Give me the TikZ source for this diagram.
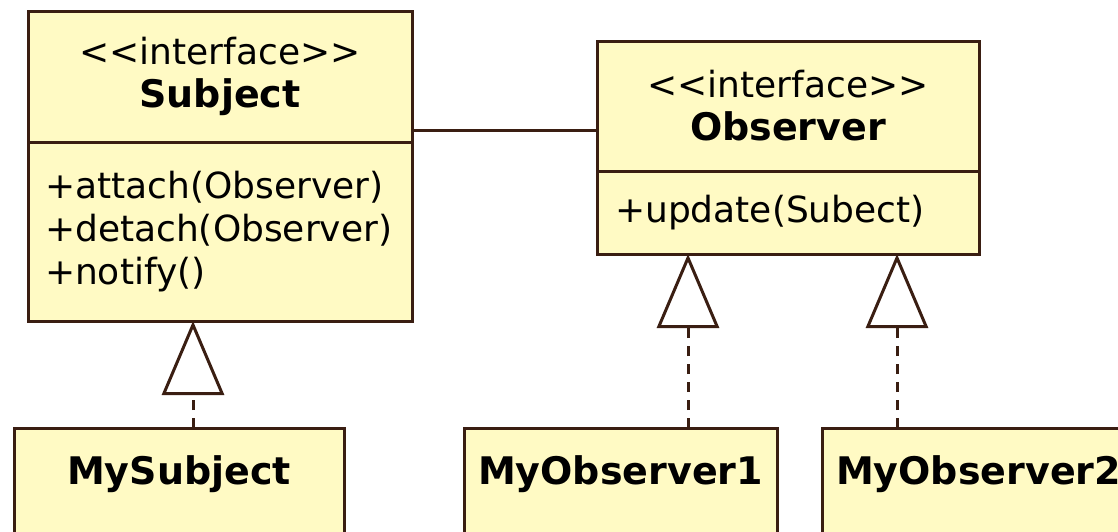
\documentclass[tikz,border=0pt]{standalone}
\usepackage{fontspec}
\usetikzlibrary{arrows.meta}
\newfontfamily\umlfont{DejaVu Sans}
\definecolor{umlfill}{RGB}{255,250,196}
\definecolor{umlline}{RGB}{58,30,18}
\tikzset{
	cls/.style={draw=umlline,fill=umlfill,line width=1.5pt,inner sep=0pt,outer sep=0pt,font=\umlfont\fontsize{18}{21.5}\selectfont},
	head/.style={cls,align=center},
	ops/.style={cls,align=left,inner xsep=8.5pt},
	impl/.style={cls,text height=28pt,text depth=60pt,font=\umlfont\bfseries\fontsize{19}{21.5}\selectfont},
	assoc/.style={draw=umlline,line width=1.5pt},
	realize/.style={draw=umlline,line width=1.5pt,dash pattern=on 5pt off 4pt,-{Triangle[open,length=37pt,width=31pt,line width=1.5pt]}}
}
\newcommand{\clsname}[1]{{\bfseries\fontsize{19}{21.5}\selectfont #1}}
\begin{document}
\begin{tikzpicture}[x=0.5pt,y=-0.5pt]
	\useasboundingbox[fill=white] (0,0) rectangle (1118,531);
	% interface Subject
		\node[head,minimum width=192pt,minimum height=65.5pt] (subjecthead) at (220,76.5) {<<interface>>\\\clsname{Subject}};
		\node[ops,text width=175pt,minimum height=89.5pt,anchor=north] (subjectbody) at (subjecthead.south) {+attach(Observer)\\+detach(Observer)\\+notify()};
	% interface Observer
		\node[head,minimum width=191pt,minimum height=65pt] (observerhead) at (788,106) {<<interface>>\\\clsname{Observer}};
		\node[ops,inner xsep=9pt,text width=173pt,minimum height=41.5pt,anchor=north] (observerbody) at (observerhead.south) {+update(Subect)};
	% concrete classes
		\node[impl,minimum width=165pt,anchor=north] (mysubject) at (179,428) {MySubject};
		\node[impl,minimum width=156.5pt,anchor=north] (myobserver1) at (620.5,428) {MyObserver1};
		\node[impl,minimum width=156.5pt,anchor=north] (myobserver2) at (978.5,428) {MyObserver2};
	% association
		\draw[assoc] (subjecthead.east |- 0,130) -- (observerhead.west |- 0,130);
	% realizations
		\draw[realize] ([xshift=7pt]mysubject.north) -- ([xshift=7pt]mysubject.north |- subjectbody.south);
		\draw[realize] ([xshift=33.75pt]myobserver1.north) -- ([xshift=33.75pt]myobserver1.north |- observerbody.south);
		\draw[realize] ([xshift=-40.75pt]myobserver2.north) -- ([xshift=-40.75pt]myobserver2.north |- observerbody.south);
\end{tikzpicture}
\end{document}
